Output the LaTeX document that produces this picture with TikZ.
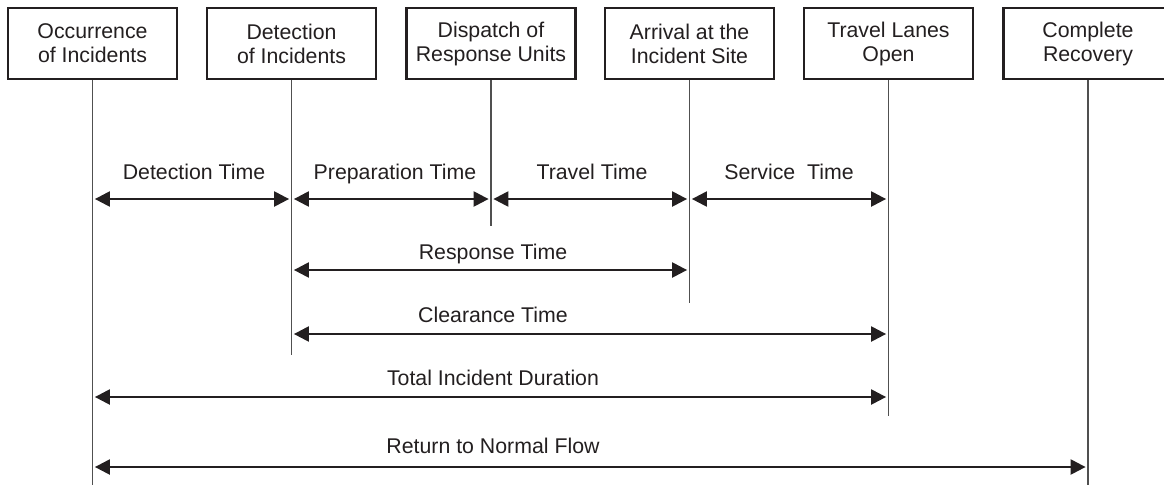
\documentclass[tikz,border=0pt]{standalone}
\usepackage{fontspec}
\setmainfont{Liberation Sans}
\usetikzlibrary{arrows.meta}
\definecolor{ink}{RGB}{35,31,32}
\definecolor{rule}{RGB}{80,80,80}
\begin{document}
\begin{tikzpicture}[x=0.5pt,y=-0.5pt,
  font=\fontsize{10.65}{12}\selectfont,
  event/.style={draw=ink,line width=1.25pt,fill=white,minimum width=84.5pt,
    minimum height=35.5pt,inner sep=0pt,align=center,text=ink},
  timeline/.style={draw=rule,line width=0.55pt},
  span/.style={draw=ink,line width=1.15pt,
    {Triangle[length=7.5pt,width=7.5pt]}-{Triangle[length=7.5pt,width=7.5pt]},
    shorten <=1.2pt,shorten >=1.2pt},
  lbl/.style={anchor=base,text=ink,inner sep=0pt}]
\useasboundingbox (0,0) rectangle (1164,484);
\clip (0,0) rectangle (1164,484);

% event boxes
\node[event] (b1) at (92.5,43.5)  {Occurrence\\of Incidents};
\node[event] (b2) at (291.5,43.5) {Detection\\of Incidents};
\node[event] (b3) at (491,43.5)   {Dispatch of\\Response Units};
\node[event] (b4) at (689.5,43.5) {Arrival at the\\Incident Site};
\node[event] (b5) at (888.5,43.5) {Travel Lanes\\Open};
\node[event] (b6) at (1088,43.5)  {Complete\\Recovery};

% time lines below the events
\coordinate (e1) at (b1.south |- 0,490);
\coordinate (e2) at (b2.south |- 0,355);
\coordinate (e3) at (b3.south |- 0,226);
\coordinate (e4) at (b4.south |- 0,303);
\coordinate (e5) at (b5.south |- 0,416);
\coordinate (e6) at (b6.south |- 0,490);
\foreach \i in {1,...,6} \draw[timeline] (b\i.south) -- (e\i);

% phase intervals
\draw[span] (b1.south |- 0,199) -- (b2.south |- 0,199);
\draw[span] (b2.south |- 0,199) -- (b3.south |- 0,199);
\draw[span] (b3.south |- 0,199) -- (b4.south |- 0,199);
\draw[span] (b4.south |- 0,199) -- (b5.south |- 0,199);
\node[lbl] (t1) at (194,179) {Detection Time};
\node[lbl] (t2) at (395,179) {Preparation Time};
\node[lbl] (t3) at (592,179) {Travel Time};
\node[lbl] (t4) at (789,179) {Service\ \ Time};

% aggregate intervals
\draw[span] (b2.south |- 0,270) -- (b4.south |- 0,270);
\node[lbl] (t5) at (493,259) {Response Time};
\draw[span] (b2.south |- 0,334) -- (b5.south |- 0,334);
\node[lbl] (t6) at (493,322) {Clearance Time};
\draw[span] (b1.south |- 0,397) -- (b5.south |- 0,397);
\node[lbl] (t7) at (493,385) {Total Incident Duration};
\draw[span] (b1.south |- 0,467) -- (b6.south |- 0,467);
\node[lbl] (t8) at (493,453) {Return to Normal Flow};
\end{tikzpicture}
\end{document}
